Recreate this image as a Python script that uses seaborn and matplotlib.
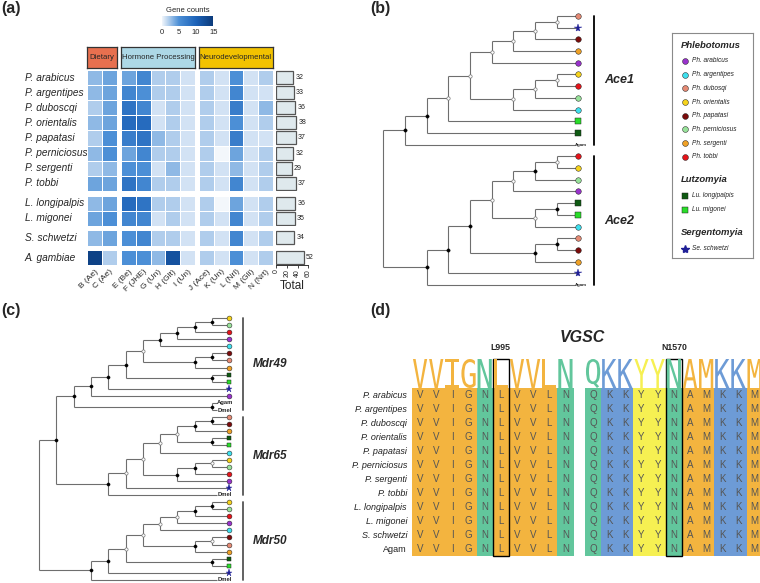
import numpy as np
import pandas as pd
import matplotlib
matplotlib.use('Agg')
import matplotlib.pyplot as plt
import seaborn as sns
from matplotlib.colors import LinearSegmentedColormap, ListedColormap
from matplotlib.patches import Rectangle, PathPatch
from matplotlib.textpath import TextPath
from matplotlib.font_manager import FontProperties
from matplotlib.transforms import Affine2D

# ---------------- data: (a) gene counts ----------------
species = ['P. arabicus', 'P. argentipes', 'P. duboscqi', 'P. orientalis', 'P. papatasi',
           'P. perniciosus', 'P. sergenti', 'P. tobbi', 'L. longipalpis', 'L. migonei',
           'S. schwetzi', 'A. gambiae']
row_groups = [8, 2, 1, 1]
gene_cols = ['B (Ae)', 'C (Ae)', 'E (Be)', 'F (JHE)', 'G (Un)', 'H (Glt)', 'I (Un)',
             'J (Ace)', 'K (Un)', 'L (Nrl)', 'M (Gli)', 'N (Nrt)']
categories = ['Dietary', 'Hormone Processing', 'Neurodevelopmental']
cat_sizes = [2, 5, 5]
gene_counts = [
    [3, 4, 4, 6, 2, 2, 1, 2, 1, 5, 1, 2],
    [3, 4, 6, 5, 2, 2, 1, 2, 1, 6, 1, 1],
    [2, 4, 8, 6, 1, 2, 1, 2, 1, 7, 1, 3],
    [3, 4, 9, 9, 1, 2, 1, 2, 1, 5, 1, 2],
    [2, 5, 7, 8, 3, 2, 1, 2, 1, 7, 1, 1],
    [3, 5, 4, 6, 2, 2, 1, 2, 0, 4, 1, 2],
    [2, 3, 5, 5, 1, 3, 1, 2, 1, 3, 1, 2],
    [4, 4, 8, 6, 2, 2, 1, 2, 1, 6, 1, 2],
    [3, 4, 9, 8, 2, 2, 1, 2, 0, 4, 1, 2],
    [4, 5, 6, 6, 1, 2, 1, 2, 1, 6, 1, 2],
    [3, 4, 5, 6, 2, 2, 1, 2, 1, 6, 1, 2],
    [14, 2, 5, 5, 3, 12, 1, 2, 1, 5, 1, 2],
]
totals = [32, 33, 36, 38, 37, 32, 29, 37, 36, 35, 34, 52]

# ---------------- data: (b)/(c) trees ----------------
sp_codes = ['ara', 'arg', 'dub', 'ori', 'pap', 'per', 'ser', 'tob', 'lon', 'mig', 'sch']
sp_legend = ['Ph. arabicus', 'Ph. argentipes', 'Ph. dubosqi', 'Ph. orientalis', 'Ph. papatasi',
             'Ph. perniciosus', 'Ph. sergenti', 'Ph. tobbi', 'Lu. longipalpis', 'Lu. migonei',
             'Se. schwetzi']
genera = ['Phlebotomus', 'Lutzomyia', 'Sergentomyia']
sp_genus = [0, 0, 0, 0, 0, 0, 0, 0, 1, 1, 2]
outgroups = ['Agam', 'Dmel']

# internal nodes: (support, child, child); 'S' supported, 'W' weak, 'R' root
ace1 = ('S',
        ('S',
         ('W',
          ('W',
           ('W', ('W', ('W', ('W', 'dub', 'sch'), 'pap'), 'ser'), 'ara'),
           ('W', ('W', ('W', 'ori', 'tob'), 'per'), 'arg')),
          'mig'),
         'lon'),
        'Agam')
ace2 = ('S',
        ('S',
         ('S',
          ('W',
           ('W', ('S', ('W', 'tob', 'ori'), 'per'), 'ara'),
           ('W', ('S', 'lon', 'mig'), 'arg')),
          ('S', ('S', 'dub', 'pap'), 'ser')),
         'sch'),
        'Agam')
mdr49 = ('S',
         ('S',
          ('S',
           ('S',
            ('W',
             ('S', ('S', ('S', ('S', 'ori', 'per'), 'tob'), 'ara'), 'arg'),
             ('S', ('S', 'pap', 'dub'), 'ser')),
            ('S', 'lon', 'mig')),
           'sch'),
          'ara'),
         ('S', 'Agam', 'Dmel'))
mdr65 = ('S',
         ('W',
          ('W',
           ('W', ('W', ('S', ('S', 'dub', 'pap'), 'ser'), ('S', 'lon', 'mig')), 'arg'),
           ('S', ('S', ('W', 'ori', 'per'), 'tob'), 'ara')),
          'sch'),
         'Dmel')
mdr50 = ('S',
         ('S',
          ('W',
           ('W',
            ('W', ('W', ('S', ('S', 'ori', 'per'), 'tob'), 'ara'), 'arg'),
            ('S', ('W', 'pap', 'dub'), 'ser')),
           ('S', 'lon', 'mig')),
          'sch'),
         'Dmel')
tree_b = ('R', ace1, ace2)
tree_c = ('R', ('S', mdr49, mdr65), mdr50)
clades_b = [('Ace1', ace1), ('Ace2', ace2)]
clades_c = [('Mdr49', mdr49), ('Mdr65', mdr65), ('Mdr50', mdr50)]

# ---------------- data: (d) alignment ----------------
aln_species = ['P. arabicus', 'P. argentipes', 'P. duboscqi', 'P. orientalis', 'P. papatasi',
               'P. perniciosus', 'P. sergenti', 'P. tobbi', 'L. longipalpis', 'L. migonei',
               'S. schwetzi', 'Agam']
site1_seqs = ['VVIGNLVVLN'] * 12
site2_seqs = ['QKKYYNAMKKM'] * 12
site_labels = ['L995', 'N1570']
site_marked = [5, 5]
res_class = {'V': 0, 'I': 0, 'G': 0, 'L': 0, 'A': 0, 'M': 0, 'N': 1, 'Q': 1, 'K': 2, 'Y': 3}

# ---------------- styles ----------------
sp_colors = {'ara': '#9932CC', 'arg': '#3EE0EE', 'dub': '#E58A74', 'ori': '#F6D31C',
             'pap': '#7B0B0B', 'per': '#98E29A', 'ser': '#EFA126', 'tob': '#E5141A',
             'lon': '#0E5A12', 'mig': '#2ADD2A', 'sch': '#1F1F96'}
genus_markers = ['o', 's', '*']
cat_colors = ['#E8704F', '#ADD8E6', '#F2C200']
class_colors = ['#F3B43F', '#62C69C', '#6D9BD6', '#F6F052']

sns.set_style('white')
plt.rcParams['font.family'] = ['Liberation Sans', 'DejaVu Sans']

W, H = 760, 583


def fbox(x0, y0, x1, y1):
    # pixel box (top-left origin) -> figure fraction rect
    return [x0 / W, 1 - y1 / H, (x1 - x0) / W, (y1 - y0) / H]


fig = plt.figure(figsize=(7.6, 5.83), dpi=100)

# ================= (a) heatmap =================
df = pd.DataFrame(gene_counts, index=species, columns=gene_cols)
cmap_a = LinearSegmentedColormap.from_list('gc', ['#F3F7FB', '#4C8FD6', '#1C62B8', '#0B3A7A'])
cell_h, row_gap, cell_w, col_gap = 15.1, 4.7, 14.8, 4.0
cbar_ax = fig.add_axes(fbox(161.7, 16, 213.3, 26))

y0, r0 = 70, 0
for gi, nr in enumerate(row_groups):
    y1 = y0 + nr * cell_h
    last = gi == len(row_groups) - 1
    x0, c0 = 87.3, 0
    for ci, nc in enumerate(cat_sizes):
        x1 = x0 + nc * cell_w
        ax = fig.add_axes(fbox(x0, y0, x1, y1))
        sub = df.iloc[r0:r0 + nr, c0:c0 + nc]
        first = gi == 0 and ci == 0
        sns.heatmap(sub, ax=ax, cmap=cmap_a, vmin=0, vmax=15, linewidths=0.7, linecolor='white',
                    cbar=first, cbar_ax=cbar_ax if first else None,
                    cbar_kws={'orientation': 'horizontal', 'ticks': [0, 5, 10, 15]} if first else {},
                    xticklabels=last, yticklabels=(ci == 0))
        if ci == 0:
            ax.set_yticklabels(sub.index, rotation=0, fontstyle='italic', fontsize=7.3, ha='left')
            ax.tick_params(axis='y', length=0, pad=44.9)
        if last:
            ax.set_xticklabels(sub.columns, rotation=45, ha='right', rotation_mode='anchor', fontsize=6)
            ax.tick_params(axis='x', length=0, pad=2)
        if gi == 0:
            hax = fig.add_axes(fbox(x0, 46.7, x1, 67.7))
            hax.set_facecolor(cat_colors[ci])
            hax.set_xticks([]); hax.set_yticks([])
            for s in hax.spines.values():
                s.set_color('#333333'); s.set_linewidth(0.9)
            hax.text(0.5, 0.5, categories[ci], ha='center', va='center', fontsize=5.6,
                     transform=hax.transAxes)
        x0 = x1 + col_gap
        c0 += nc
    # totals bars
    tax = fig.add_axes(fbox(276, y0, 308.3, y1))
    sns.barplot(x=totals[r0:r0 + nr], y=species[r0:r0 + nr], orient='h', ax=tax,
                color='#DFE9ED', edgecolor='#555555', linewidth=0.9, width=0.86, saturation=1)
    tax.set_xlim(0, 60)
    tax.bar_label(tax.containers[0], padding=1.5, fontsize=5, color='#222222')
    tax.set_yticks([]); tax.set_ylabel('')
    for s in ['top', 'right', 'left']:
        tax.spines[s].set_visible(False)
    if last:
        tax.spines['bottom'].set_color('#333333'); tax.spines['bottom'].set_linewidth(0.7)
        tax.set_xticks([0, 20, 40, 60])
        tax.set_xticklabels(['0', '20', '40', '60'], rotation=90, fontsize=5)
        tax.tick_params(axis='x', length=2, width=0.6, pad=1, bottom=True)
        tax.set_xlabel('Total', fontsize=8.5, labelpad=2)
    else:
        tax.spines['bottom'].set_visible(False)
        tax.set_xticks([])
    y0 = y1 + row_gap
    r0 += nr

cbar_ax.tick_params(labelsize=5.5, length=1.5, color='white', width=0.5, pad=1)
cbar_ax.set_title('Gene counts', fontsize=5.5, pad=3)
for s in cbar_ax.spines.values():
    s.set_visible(False)


# ================= trees =================
def build_tree(node, tips, segs, nodes, label_gap):
    if isinstance(node, str):
        tips.append(node)
        return 0, len(tips) - 1, (-label_gap if node in outgroups else 0)
    kids = [build_tree(k, tips, segs, nodes, label_gap) for k in node[1:]]
    h = max(k[0] for k in kids) + 1
    ys = [k[1] for k in kids]
    segs.append(([-h, -h], [min(ys), max(ys)]))
    for kh, ky, kx in kids:
        segs.append(([-h, kx], [ky, ky]))
    y = (min(ys) + max(ys)) / 2
    nodes.append((-h, y, node[0]))
    return h, y, -h


def n_leaves(node):
    return 1 if isinstance(node, str) else sum(n_leaves(k) for k in node[1:])


def draw_tree(tree, clades, tip_x, step, y_first, dy, ms, node_ms, label_gap, label_fs,
              bar_x, bar_color, clade_fs):
    tips, segs, nodes = [], [], []
    root_h, _, _ = build_tree(tree, tips, segs, nodes, label_gap)
    n = len(tips)
    ax = fig.add_axes(fbox(tip_x - root_h * step, y_first, tip_x, y_first + (n - 1) * dy))
    ax.set_xlim(-root_h, 0)
    ax.set_ylim(n - 1, 0)
    ax.axis('off')
    for xs, ys in segs:
        ax.plot(xs, ys, color='#6e6e6e', lw=0.8, solid_capstyle='butt', clip_on=False, zorder=1)
    for x, y, sup in nodes:
        if sup == 'S':
            ax.plot(x, y, 'o', ms=node_ms, mfc='black', mec='black', mew=0.3, zorder=3, clip_on=False)
        elif sup == 'W':
            ax.plot(x, y, 'o', ms=node_ms, mfc='white', mec='#777777', mew=0.5, zorder=3, clip_on=False)
    for i, t in enumerate(tips):
        if t in outgroups:
            ax.text(-label_gap, i, t, fontsize=label_fs, fontweight='bold', ha='left', va='center')
            continue
        g = sp_genus[sp_codes.index(t)]
        if g == 2:
            ax.plot(0, i, '*', ms=ms * 1.45, mfc=sp_colors[t], mec=sp_colors[t], mew=0.3,
                    zorder=4, clip_on=False)
        else:
            ax.plot(0, i, genus_markers[g], ms=ms * (0.95 if g == 1 else 1), mfc=sp_colors[t],
                    mec='#222222', mew=0.35, zorder=4, clip_on=False)
    bx = (bar_x - tip_x) / step
    start = 0
    for name, sub in clades:
        k = n_leaves(sub)
        ax.plot([bx, bx], [start, start + k - 1], color=bar_color, lw=1.3, clip_on=False)
        ax.text(bx + 10 / step, start + (k - 1) / 2, name, fontsize=clade_fs, fontweight='bold',
                fontstyle='italic', ha='left', va='center')
        start += k
    return ax


draw_tree(tree_b, clades_b, tip_x=578.3, step=21.67, y_first=16, dy=11.7, ms=4.0, node_ms=2.4,
          label_gap=0.15, label_fs=3.2, bar_x=594, bar_color='black', clade_fs=9)
draw_tree(tree_c, clades_c, tip_x=229.3, step=17.3, y_first=318, dy=7.08, ms=3.5, node_ms=2.3,
          label_gap=0.7, label_fs=4.2, bar_x=243, bar_color='#555555', clade_fs=8.5)

# legend for (b)
lax = fig.add_axes(fbox(672, 33, 753, 258))
lax.set_xlim(672, 753)
lax.set_ylim(258, 33)
lax.set_xticks([]); lax.set_yticks([])
for s in lax.spines.values():
    s.set_visible(True); s.set_color('#8a8a8a'); s.set_linewidth(0.8)
yc = 45
for gi, gname in enumerate(genera):
    lax.text(681, yc, gname, fontsize=6.8, fontweight='bold', fontstyle='italic', va='center', ha='left')
    yc += 16
    for code, lab, g in zip(sp_codes, sp_legend, sp_genus):
        if g != gi:
            continue
        if g == 2:
            lax.plot(685, yc, '*', ms=6, mfc=sp_colors[code], mec=sp_colors[code])
        else:
            lax.plot(685, yc, genus_markers[g], ms=4.2 if g == 0 else 4.0, mfc=sp_colors[code],
                     mec='#222222', mew=0.35)
        lax.text(692, yc, lab, fontsize=4.7, fontstyle='italic', va='center', ha='left', color='#222222')
        yc += 13.7
    yc += 23 - 13.7

# ================= (d) alignment =================
res_cmap = ListedColormap(class_colors)
logo_font = FontProperties(family='DejaVu Sans Mono')


def draw_letter(ax, ch, x, w, color):
    tp = TextPath((0, 0), ch, size=1, prop=logo_font)
    bb = tp.get_extents()
    tr = Affine2D().translate(-bb.x0, -bb.y0).scale(w / bb.width, 1 / bb.height).translate(x, 0)
    ax.add_patch(PathPatch(tr.transform_path(tp), fc=color, ec='none', lw=0))


aln_x0 = [412, 585]
col_w, row_h, aln_top, logo_top = 16.15, 14.0, 388, 359
for bi, (seqs, lab, mark) in enumerate(zip([site1_seqs, site2_seqs], site_labels, site_marked)):
    ncol = len(seqs[0])
    x0 = aln_x0[bi]
    x1 = x0 + ncol * col_w
    ax = fig.add_axes(fbox(x0, aln_top, x1, aln_top + len(seqs) * row_h))
    mat = pd.DataFrame([[res_class[c] for c in s] for s in seqs], index=aln_species)
    letters = np.array([list(s) for s in seqs])
    sns.heatmap(mat, ax=ax, cmap=res_cmap, vmin=-0.5, vmax=3.5, cbar=False, annot=letters, fmt='',
                annot_kws={'fontsize': 7, 'color': '#555555'}, xticklabels=False,
                yticklabels=(bi == 0))
    if bi == 0:
        ax.set_yticklabels(aln_species, rotation=0, fontsize=6.5, color='#222222')
        for t in ax.get_yticklabels():
            if t.get_text() != 'Agam':
                t.set_fontstyle('italic')
        ax.tick_params(axis='y', length=0, pad=3.6)
    lgx = fig.add_axes(fbox(x0, logo_top, x1, aln_top))
    lgx.set_xlim(0, ncol)
    lgx.set_ylim(0, 1)
    lgx.axis('off')
    for j in range(ncol):
        col = [s[j] for s in seqs]
        ch = max(set(col), key=col.count)
        draw_letter(lgx, ch, j + 0.06, 0.88, class_colors[res_class[ch]])
    ext = (aln_top - logo_top) / row_h
    ax.add_patch(Rectangle((mark, -ext), 1, len(seqs) + ext, fill=False, ec='black', lw=1,
                           clip_on=False, zorder=5))
    fig.text((x0 + (mark + 0.5) * col_w) / W, 1 - 348 / H, lab, fontsize=6.3, fontweight='bold',
             ha='center', va='center')

fig.text(582 / W, 1 - 337 / H, 'VGSC', fontsize=11.5, fontweight='bold', fontstyle='italic',
         ha='center', va='center')

# panel labels
for lab, (px, py) in zip(['(a)', '(b)', '(c)', '(d)'], [(1, 9), (370, 9), (1, 310), (370, 310)]):
    fig.text(px / W, 1 - py / H, lab, fontsize=11.5, fontweight='bold', ha='left', va='center')

fig.savefig('out.png', dpi=100)
